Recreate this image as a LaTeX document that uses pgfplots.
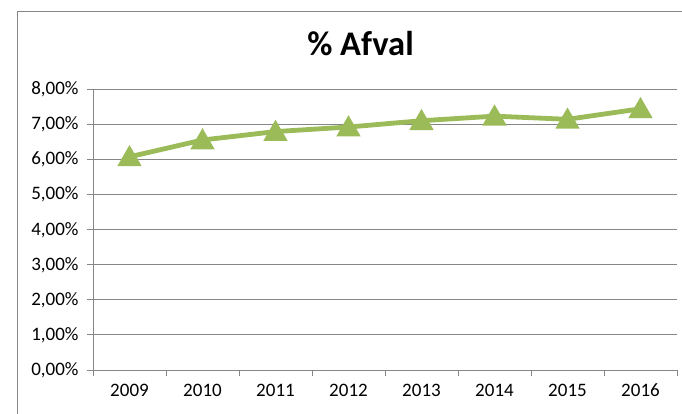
\documentclass[border=0pt]{standalone}
\usepackage{fontspec}
\setmainfont{Carlito}
\usepackage{pgfplots}
\pgfplotsset{compat=1.18}
\definecolor{grn}{HTML}{9BBB59}
\definecolor{grd}{HTML}{868686}
\begin{document}
\begin{tikzpicture}[x=1pt,y=1pt]
\useasboundingbox (0,0) rectangle (682,413);
\draw[grd, line width=1pt] (17,-5) -- (17,401) -- (690,401);
\node[anchor=base, font=\fontsize{34.5}{40}\selectfont\bfseries, inner sep=0pt] at (360.5,357) {\% Afval};
\begin{axis}[
  at={(93pt,43pt)}, anchor=south west,
  scale only axis, width=584pt, height=280.5pt,
  xmin=-0.5, xmax=7.5, ymin=0, ymax=8,
  axis x line=bottom, axis y line=left,
  axis line style={grd, line width=1pt, -},
  ymajorgrids, grid style={grd, line width=1pt},
  tick align=outside,
  ytick={0,...,8},
  yticklabels={{0,00\%},{1,00\%},{2,00\%},{3,00\%},{4,00\%},{5,00\%},{6,00\%},{7,00\%},{8,00\%}},
  xtick={0,...,7},
  xticklabels={2009,2010,2011,2012,2013,2014,2015,2016},
  minor xtick={-0.5,0.5,...,7.5},
  major tick length=6pt, minor tick length=6pt,
  x tick style={draw=none},
  minor x tick style={draw=grd, line width=1pt},
  y tick style={draw=grd, line width=1pt},
  tick label style={font=\fontsize{19}{22}\selectfont, text=black},
  xticklabel style={anchor=center, yshift=-14pt},
  yticklabel style={anchor=east, xshift=-5pt},
  clip=false,
]
\addplot[draw=grn, line width=4.8pt, mark=triangle*, mark size=9.3pt,
  mark options={solid, fill=grn, draw=none, yshift=-2.3pt}]
  coordinates {(0,6.08) (1,6.56) (2,6.80) (3,6.93) (4,7.11) (5,7.24) (6,7.15) (7,7.45)};
\end{axis}
\end{tikzpicture}
\end{document}
